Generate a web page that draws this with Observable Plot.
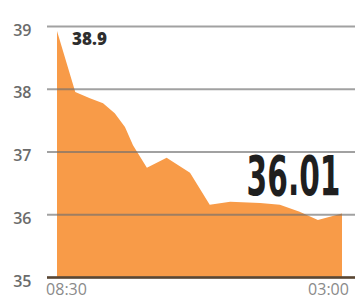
<!DOCTYPE html>
<html>
<head>
<meta charset="utf-8">
<script src="https://cdn.jsdelivr.net/npm/d3@7"></script>
<script src="https://cdn.jsdelivr.net/npm/@observablehq/plot@0.6"></script>
<style>
  html, body { margin: 0; padding: 0; background: #fff; }
</style>
</head>
<body>
<div id="chart"></div>
<script>
const times = ["08:30","08:55","09:15","09:33","09:49","10:03","10:14","10:33","11:00","11:32","11:59","12:27","13:08","13:35","14:02","14:27","15:00"];
const values = [38.92,37.95,37.85,37.77,37.61,37.39,37.1,36.74,36.9,36.66,36.15,36.2,36.18,36.15,36.04,35.91,36.01];
const yTicks = [35, 36, 37, 38, 39];
const xTickLabels = ["08:30", "03:00"];
const firstLabel = "38.9";
const lastLabel = "36.01";

const toMin = s => { const [h, m] = s.split(":").map(Number); return (h * 60 + m) - (8 * 60 + 30); };
const data = times.map((t, i) => ({ x: toMin(t), v: values[i] }));
const x0 = data[0].x, x1 = data[data.length - 1].x;

const chart = Plot.plot({
  width: 355,
  height: 302,
  marginLeft: 47,
  marginRight: 0,
  marginTop: 26,
  marginBottom: 25,
  style: { background: "#fff", overflow: "visible" },
  x: { domain: [-13.7, 407.8], axis: null },
  y: { domain: [35, 39], axis: null },
  marks: [
    Plot.areaY(data, { x: "x", y1: 35, y2: "v", fill: "#f89b48", curve: "linear" }),
    Plot.ruleY(yTicks, { stroke: "#6f6f6f", strokeOpacity: 0.65, strokeWidth: 2 }),
    Plot.ruleY([35], { stroke: "#5a4632", strokeWidth: 2.5 }),
    Plot.text(yTicks, { y: d => d, frameAnchor: "left", text: d => String(d), textAnchor: "end", dx: -16, dy: 4, fontSize: 16, fill: "#6b6b6b", fontWeight: 600, fontFamily: "Open Sans, sans-serif" }),
    Plot.text([x0], { x: d => d, y: 35, text: [xTickLabels[0]], dx: 9, dy: 12, fontSize: 16, fill: "#8a8a8a", fontFamily: "Open Sans, sans-serif" }),
    Plot.text([x1], { x: d => d, y: 35, text: [xTickLabels[1]], dx: -14, dy: 12, fontSize: 16, fill: "#8a8a8a", fontFamily: "Open Sans, sans-serif" }),
    Plot.text([data[0]], { x: "x", y: "v", text: [firstLabel], dx: 32, dy: 8, fontSize: 17, fontWeight: 800, fill: "#2e2e2e", fontFamily: "Open Sans, sans-serif" }),
    Plot.text([data[data.length - 1]], { x: "x", y: "v", text: [lastLabel], className: "bignum", textAnchor: "end", lineAnchor: "bottom", dx: -2, dy: -19, fontSize: 55, fontWeight: 700, fill: "#1f1f1f", fontFamily: "Liberation Sans Narrow, DejaVu Sans Condensed, sans-serif" })
  ]
});
document.getElementById("chart").appendChild(chart);
d3.select(chart).selectAll(".bignum text").each(function () {
  const t = this.getAttribute("transform") || "";
  this.setAttribute("transform", t + " scale(0.6,1)");
});
</script>
</body>
</html>
